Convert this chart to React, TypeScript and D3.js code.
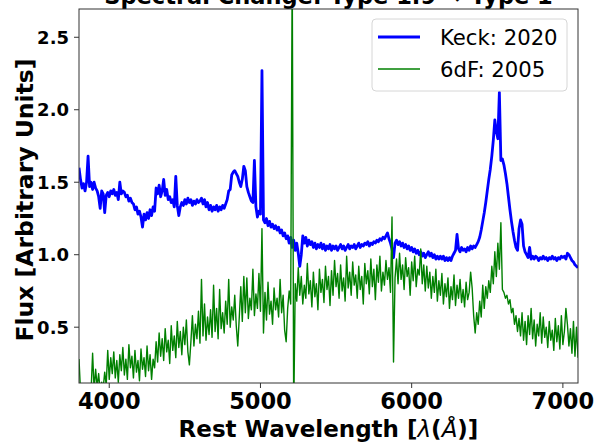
import React from "react";
import * as d3 from "d3";

const startWavelength = 3800;
const wavelengthStep = 10;

const keckFlux = [
  1.60, 1.52, 1.46, 1.49, 1.44, 1.50, 1.68, 1.47, 1.50, 1.45,
  1.50, 1.46, 1.44, 1.40, 1.32, 1.44, 1.42, 1.29, 1.41, 1.43,
  1.40, 1.44, 1.42, 1.45, 1.41, 1.43, 1.38, 1.50, 1.42, 1.44,
  1.43, 1.40, 1.41, 1.37, 1.39, 1.36, 1.35, 1.31, 1.33, 1.28,
  1.30, 1.26, 1.19, 1.28, 1.24, 1.29, 1.25, 1.31, 1.27, 1.33,
  1.30, 1.46, 1.42, 1.48, 1.40, 1.44, 1.52, 1.41, 1.45, 1.38,
  1.40, 1.36, 1.38, 1.33, 1.54, 1.34, 1.27, 1.33, 1.36, 1.34,
  1.38, 1.35, 1.39, 1.36, 1.38, 1.34, 1.37, 1.35, 1.38, 1.36,
  1.37, 1.39, 1.35, 1.38, 1.33, 1.36, 1.31, 1.34, 1.30, 1.33,
  1.31, 1.34, 1.30, 1.33, 1.31, 1.34, 1.32, 1.35, 1.38, 1.44,
  1.45, 1.55, 1.57, 1.58, 1.56, 1.54, 1.50, 1.47, 1.52, 1.61,
  1.58, 1.47, 1.43, 1.40, 1.37, 1.36, 1.65, 1.33, 1.26, 1.30,
  1.28, 2.27, 1.24, 1.22, 1.25, 1.20, 1.23, 1.19, 1.21, 1.18,
  1.20, 1.17, 1.19, 1.15, 1.17, 1.13, 1.15, 1.11, 1.13, 1.08,
  1.12, 1.05, 1.10, 1.03, 1.08, 1.01, 0.92, 1.00, 1.13, 1.08,
  1.12, 1.06, 1.10, 1.07, 1.09, 1.05, 1.08, 1.04, 1.07, 1.05,
  1.08, 1.04, 1.07, 1.03, 1.06, 1.04, 1.07, 1.03, 1.06, 1.04,
  1.06, 1.03, 1.05, 1.07, 1.04, 1.06, 1.03, 1.05, 1.07, 1.04,
  1.06, 1.05, 1.07, 1.04, 1.06, 1.08, 1.05, 1.07, 1.06, 1.08,
  1.07, 1.09, 1.06, 1.08, 1.07, 1.09, 1.08, 1.10, 1.09, 1.11,
  1.10, 1.12, 1.11, 1.13, 1.15, 1.11, 1.08, 1.04, 0.98, 1.08,
  1.10, 1.07, 1.09, 1.06, 1.08, 1.05, 1.07, 1.04, 1.06, 1.03,
  1.05, 1.02, 1.04, 1.01, 1.03, 1.00, 1.02, 0.99, 1.01, 0.98,
  1.00, 1.02, 0.99, 1.01, 0.98, 1.00, 0.97, 0.99, 0.97, 0.99,
  0.97, 0.99, 0.96, 0.98, 0.96, 0.98, 0.96, 0.99, 1.01, 1.03,
  1.14, 1.04, 1.02, 1.05, 1.03, 1.04, 1.02, 1.05, 1.03, 1.06,
  1.04, 1.06, 1.05, 1.07, 1.09, 1.12, 1.17, 1.23, 1.29, 1.36,
  1.44, 1.52, 1.59, 1.68, 1.79, 1.93, 1.85, 1.80, 2.12, 1.65,
  1.66, 1.62, 1.56, 1.49, 1.40, 1.31, 1.23, 1.16, 1.10, 1.05,
  1.03, 1.18, 1.24, 1.21, 1.06, 1.02, 1.00, 0.98, 1.05, 0.97,
  0.99, 0.97, 0.99, 0.98, 0.96, 0.98, 0.97, 0.99, 0.97, 0.98,
  0.96, 0.98, 0.97, 0.99, 0.97, 0.98, 0.96, 0.98, 0.97, 0.99,
  0.98, 0.99, 0.97, 1.01, 1.00, 0.98, 0.96, 0.95, 0.93, 0.92,
  0.91,
];

const sixdfFlux = [
  0.28, 0.06, 0.03, 0.09, 0.05, 0.11, 0.04, 0.08, 0.06, 0.32,
  0.07, 0.21, 0.09, 0.18, 0.06, 0.12, 0.08, 0.19, 0.10, 0.34,
  0.14, 0.29, 0.18, 0.33, 0.15, 0.27, 0.12, 0.31, 0.20, 0.36,
  0.17, 0.28, 0.14, 0.38, 0.22, 0.30, 0.15, 0.34, 0.19, 0.27,
  0.13, 0.35, 0.21, 0.29, 0.16, 0.37, 0.20, 0.31, 0.14, 0.28,
  0.22, 0.40, 0.26, 0.46, 0.30, 0.42, 0.27, 0.49, 0.33, 0.41,
  0.25, 0.51, 0.34, 0.44, 0.29, 0.54, 0.36, 0.47, 0.31, 0.50,
  0.38, 0.55, 0.33, 0.24, 0.40, 0.58, 0.37, 0.52, 0.42, 0.61,
  0.39, 0.83, 0.44, 0.66, 0.41, 0.57, 0.45, 0.62, 0.43, 0.79,
  0.47, 0.63, 0.42, 0.76, 0.49, 0.60, 0.46, 0.68, 0.52, 0.83,
  0.50, 0.64, 0.55, 0.72, 0.51, 0.37, 0.57, 0.78, 0.54, 0.85,
  0.60, 0.84, 0.56, 0.70, 0.62, 0.90, 0.58, 0.73, 0.63, 0.87,
  0.61, 1.18, 0.46, 0.74, 0.55, 0.81, 0.59, 0.68, 0.52, 0.77,
  0.62, 0.70, 0.57, 0.83, 0.60, 0.72, 0.48, 0.40, 0.63, 0.75,
  0.66, 3.00, -0.10, 0.80, 0.68, 0.91, 0.72, 0.85, 0.66, 0.79,
  0.70, 0.94, 0.73, 0.82, 0.64, 0.88, 0.71, 0.80, 0.62, 0.90,
  0.74, 0.83, 0.67, 0.92, 0.76, 0.85, 0.65, 0.89, 0.72, 0.96,
  0.78, 0.87, 0.70, 0.93, 0.75, 0.84, 0.68, 0.99, 0.77, 0.88,
  0.72, 0.95, 0.79, 0.86, 0.70, 0.92, 0.76, 0.85, 0.66, 0.94,
  0.80, 0.89, 0.73, 0.97, 0.78, 0.90, 0.69, 0.93, 0.81, 0.99,
  0.75, 0.88, 0.79, 0.96, 0.83, 0.91, 0.74, 1.26, 0.26, 0.84,
  0.97, 0.80, 1.01, 0.83, 0.93, 0.76, 0.98, 0.85, 0.91, 0.72,
  0.95, 0.82, 0.99, 0.78, 0.90, 0.86, 1.04, 0.80, 0.93, 0.75,
  0.92, 0.77, 0.88, 0.70, 0.85, 0.74, 0.90, 0.68, 0.82, 0.72,
  0.87, 0.66, 0.80, 0.71, 0.84, 0.63, 0.78, 0.69, 0.86, 0.65,
  0.79, 0.70, 0.83, 0.67, 0.76, 0.64, 0.81, 0.69, 0.74, 0.88,
  0.77, 0.58, 0.46, 0.60, 0.52, 0.68, 0.57, 0.79, 0.63, 0.78,
  0.70, 0.82, 0.74, 0.92, 0.80, 1.02, 0.85, 1.08, 0.90, 1.22,
  0.76, 0.74, 0.70, 0.72, 0.66, 0.69, 0.60, 0.63, 0.52, 0.58,
  0.47, 0.56, 0.44, 0.60, 0.41, 0.54, 0.38, 0.58, 0.45, 0.63,
  0.42, 0.55, 0.37, 0.52, 0.44, 0.60, 0.39, 0.57, 0.43, 0.50,
  0.36, 0.54, 0.41, 0.48, 0.34, 0.56, 0.40, 0.51, 0.35, 0.58,
  0.38, 0.47, 0.63, 0.52, 0.37, 0.49, 0.32, 0.54, 0.30, 0.50,
  0.29,
];

const xTicks = [4000, 5000, 6000, 7000];
const yTicks = [0.5, 1.0, 1.5, 2.0, 2.5];
const seriesLabels = ["Keck: 2020", "6dF: 2005"];
const seriesColors = ["#0000ff", "#008000"];
const xDomain = [3800, 7100];
const yDomain = [0.115, 2.695];

const FONT = "'DejaVu Sans', sans-serif";

export default function App() {
  const W = 597;
  const H = 442;
  const L = 79, R = 578, T = 9, B = 383;
  const x = d3.scaleLinear().domain(xDomain).range([L, R]);
  const y = d3.scaleLinear().domain(yDomain).range([B, T]);
  const wl = (n: number) => startWavelength + n * wavelengthStep;
  const mkLine = (arr: number[]) =>
    d3.line<number>().x((_, i) => x(wl(i))).y((d) => y(d))(arr) || "";

  const legX = 372, legY = 19, legW = 195, legH = 72;

  return (
    <svg
      width={W}
      height={H}
      style={{ position: "absolute", left: 0, top: 0, background: "#fff" }}
      fontFamily={FONT}
    >
      <defs>
        <clipPath id="plotclip">
          <rect x={L} y={T} width={R - L} height={B - T} />
        </clipPath>
      </defs>
      <rect x={0} y={0} width={W} height={H} fill="#fff" />
      <text x={(L + R) / 2} y={3.5} textAnchor="middle" fontSize={22.5} fontWeight="bold" fill="#000">
        Spectral Change: Type 1.9 → Type 1
      </text>
      <g clipPath="url(#plotclip)">
        <path d={mkLine(keckFlux)} fill="none" stroke={seriesColors[0]} strokeWidth={2.8} strokeLinejoin="round" />
        <path d={mkLine(sixdfFlux)} fill="none" stroke={seriesColors[1]} strokeWidth={1.4} strokeLinejoin="round" />
      </g>
      <rect x={L} y={T} width={R - L} height={B - T} fill="none" stroke="#333" strokeWidth={1} />
      {xTicks.map((t) => (
        <g key={t}>
          <line x1={x(t)} x2={x(t)} y1={B} y2={B + 5} stroke="#333" strokeWidth={1} />
          <text x={x(t)} y={B + 26} textAnchor="middle" fontSize={22.5} fontWeight="bold">
            {t}
          </text>
        </g>
      ))}
      {yTicks.map((t) => (
        <g key={t}>
          <line x1={L - 5} x2={L} y1={y(t)} y2={y(t)} stroke="#333" strokeWidth={1} />
          <text x={L - 10} y={y(t) + 6.5} textAnchor="end" fontSize={18} fontWeight="bold">
            {t.toFixed(1)}
          </text>
        </g>
      ))}
      <text x={(L + R) / 2} y={437} textAnchor="middle" fontSize={23} fontWeight="bold">
        Rest Wavelength [<tspan fontStyle="italic" fontWeight="normal">λ</tspan>(<tspan fontStyle="italic" fontWeight="normal">Å</tspan>)]
      </text>
      <text
        transform={`translate(33,${(T + B) / 2 + 4}) rotate(-90)`}
        textAnchor="middle"
        fontSize={23.5}
        fontWeight="bold"
      >
        Flux [Arbitrary Units]
      </text>
      <g>
        <rect x={legX} y={legY} width={legW} height={legH} rx={4} fill="#fff" fillOpacity={0.8} stroke="#d6d6d6" strokeWidth={1} />
        {seriesLabels.map((s, i) => (
          <g key={s}>
            <line x1={legX + 6} x2={legX + 48} y1={legY + 18 + i * 32} y2={legY + 18 + i * 32} stroke={seriesColors[i]} strokeWidth={i === 0 ? 2.8 : 1.6} />
            <text x={legX + 68} y={legY + 26 + i * 32} fontSize={21.2}>
              {s}
            </text>
          </g>
        ))}
      </g>
    </svg>
  );
}
